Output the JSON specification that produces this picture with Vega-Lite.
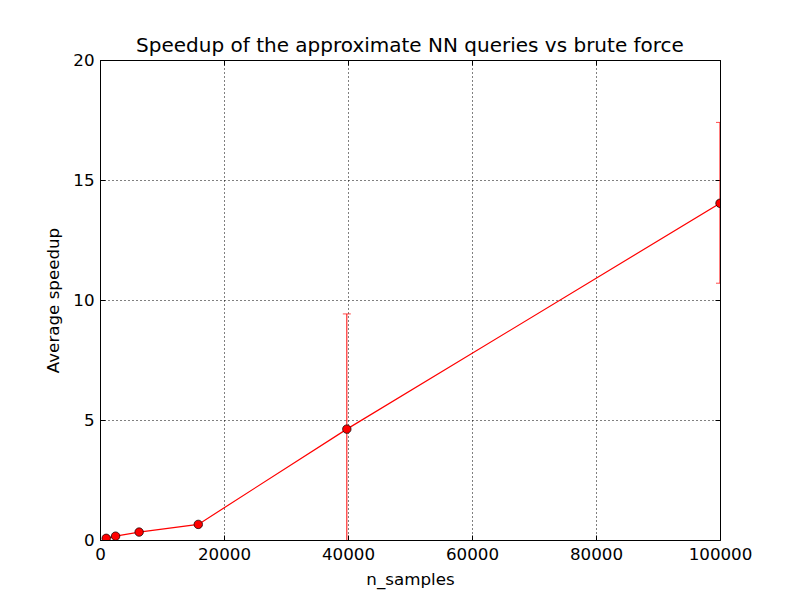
{
  "$schema": "https://vega.github.io/schema/vega-lite/v6.json",
  "width": 620,
  "height": 480,
  "autosize": {"type": "none"},
  "padding": {"left": 100, "top": 60, "right": 80, "bottom": 60},
  "background": "white",
  "title": {"text": "Speedup of the approximate NN queries vs brute force", "font": "DejaVu Sans", "fontSize": 20, "fontWeight": "normal", "color": "black", "offset": -4},
  "config": {
    "view": {"stroke": "black", "strokeWidth": 1},
    "axis": {
      "domain": false,
      "labelFont": "DejaVu Sans",
      "labelFontSize": 16.7,
      "labelColor": "black",
      "titleFont": "DejaVu Sans",
      "titleFontSize": 16.7,
      "titleFontWeight": "normal",
      "titleColor": "black",
      "tickColor": "black",
      "tickSize": -5,
      "labelPadding": 11,
      "labelFlush": false,
      "labelOverlap": false,
      "gridColor": "black",
      "gridOpacity": 1,
      "gridDash": [1, 3],
      "gridWidth": 1
    }
  },
  "data": {
    "values": [
      {"n": 1000, "speedup": 0.07, "lo": 0.05, "hi": 0.09},
      {"n": 2512, "speedup": 0.16, "lo": 0.13, "hi": 0.19},
      {"n": 6310, "speedup": 0.33, "lo": 0.29, "hi": 0.37},
      {"n": 15849, "speedup": 0.65, "lo": 0.6, "hi": 0.7},
      {"n": 39811, "speedup": 4.62, "lo": -0.2, "hi": 9.42},
      {"n": 100000, "speedup": 14.03, "lo": 10.7, "hi": 17.4}
    ]
  },
  "layer": [
    {
      "mark": {"type": "rule", "color": "red", "strokeWidth": 1, "clip": true},
      "encoding": {
        "x": {"field": "n", "type": "quantitative", "scale": {"domain": [0, 100000], "nice": false},
              "axis": {"title": "n_samples", "values": [0, 20000, 40000, 60000, 80000, 100000], "format": "d", "grid": true, "titlePadding": 9}},
        "y": {"field": "lo", "type": "quantitative", "scale": {"domain": [0, 20], "nice": false},
              "axis": {"title": "Average speedup", "values": [0, 5, 10, 15, 20], "grid": true, "titlePadding": 10}},
        "y2": {"field": "hi"}
      }
    },
    {
      "mark": {"type": "tick", "orient": "horizontal", "color": "red", "size": 8, "thickness": 1, "clip": true},
      "encoding": {
        "x": {"field": "n", "type": "quantitative", "scale": {"domain": [0, 100000], "nice": false}, "axis": null},
        "y": {"field": "hi", "type": "quantitative", "scale": {"domain": [0, 20], "nice": false}, "axis": null}
      }
    },
    {
      "mark": {"type": "tick", "orient": "horizontal", "color": "red", "size": 8, "thickness": 1, "clip": true},
      "encoding": {
        "x": {"field": "n", "type": "quantitative", "scale": {"domain": [0, 100000], "nice": false}, "axis": null},
        "y": {"field": "lo", "type": "quantitative", "scale": {"domain": [0, 20], "nice": false}, "axis": null}
      }
    },
    {
      "mark": {"type": "line", "color": "red", "strokeWidth": 1.2, "clip": true},
      "encoding": {
        "x": {"field": "n", "type": "quantitative", "scale": {"domain": [0, 100000], "nice": false},
              "axis": {"orient": "top", "title": null, "labels": false, "grid": false, "values": [0, 20000, 40000, 60000, 80000, 100000]}},
        "y": {"field": "speedup", "type": "quantitative", "scale": {"domain": [0, 20], "nice": false},
              "axis": {"orient": "right", "title": null, "labels": false, "grid": false, "values": [0, 5, 10, 15, 20]}}
      }
    },
    {
      "mark": {"type": "point", "filled": true, "fill": "red", "stroke": "black", "strokeWidth": 0.7, "size": 72, "opacity": 1, "shape": "circle", "clip": true},
      "encoding": {
        "x": {"field": "n", "type": "quantitative", "scale": {"domain": [0, 100000], "nice": false}, "axis": null},
        "y": {"field": "speedup", "type": "quantitative", "scale": {"domain": [0, 20], "nice": false}, "axis": null}
      }
    }
  ],
  "resolve": {"axis": {"x": "independent", "y": "independent"}}
}
